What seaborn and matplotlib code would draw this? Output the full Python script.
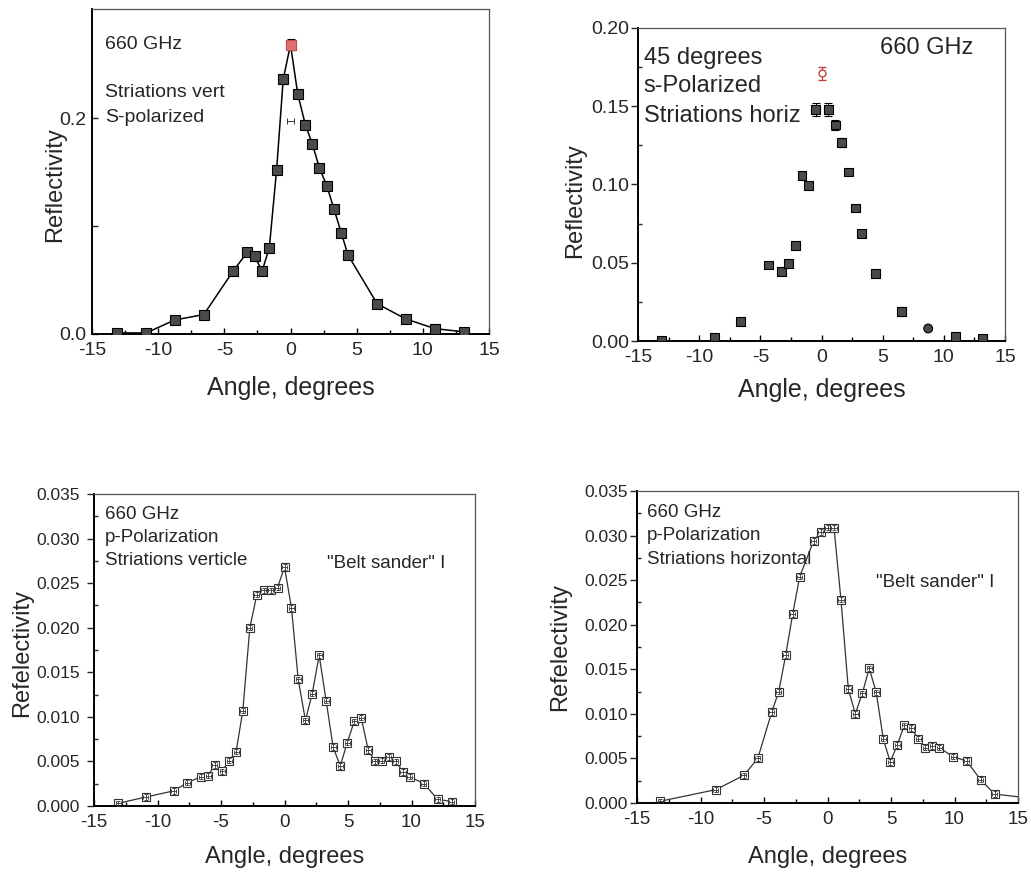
import numpy as np
import pandas as pd
import matplotlib
matplotlib.use("Agg")
import matplotlib.pyplot as plt
import seaborn as sns

# ---------------- data ----------------
# Panel A: 660 GHz, striations vertical, S-polarized
a_angle = [-13.1, -10.9, -8.75, -6.55, -4.35, -3.25, -2.7, -2.15, -1.6, -1.05, -0.55, 0.0,
           0.55, 1.12, 1.65, 2.18, 2.75, 3.28, 3.83, 4.35, 6.55, 8.7, 10.9, 13.1]
a_refl = [0.001, 0.001, 0.013, 0.018, 0.058, 0.076, 0.072, 0.058, 0.080, 0.152, 0.236, 0.268,
          0.222, 0.194, 0.176, 0.154, 0.137, 0.116, 0.094, 0.073, 0.028, 0.014, 0.005, 0.002]
a_err = [0.002, 0.002, 0.004, 0.003, 0.003, 0.003, 0.004, 0.003, 0.003, 0.004, 0.004, 0.005,
         0.003, 0.004, 0.003, 0.003, 0.003, 0.003, 0.003, 0.003, 0.002, 0.003, 0.003, 0.002]
a_peak_index = 11
a_stray_angle = [0.0]
a_stray_refl = [0.197]

# Panel B: 45 degrees, s-Polarized, striations horizontal
b_angle = [-13.1, -8.75, -6.6, -4.36, -3.27, -2.72, -2.15, -1.6, -1.06, -0.49,
           0.57, 1.12, 1.66, 2.2, 2.75, 3.3, 4.41, 6.57, 8.72, 10.98, 13.16]
b_refl = [0.0005, 0.0026, 0.0123, 0.0485, 0.0442, 0.0496, 0.0608, 0.106, 0.0996, 0.148,
          0.148, 0.138, 0.127, 0.108, 0.085, 0.0685, 0.0431, 0.0188, 0.008, 0.003, 0.0015]
b_err = [0.001, 0.001, 0.0015, 0.001, 0.001, 0.001, 0.002, 0.002, 0.002, 0.004,
         0.004, 0.003, 0.003, 0.002, 0.002, 0.001, 0.001, 0.003, 0.001, 0.001, 0.001]
b_circle_index = 18
b_peak_angle = [0.05]
b_peak_refl = [0.171]
b_peak_err = [0.004]

# Panel C: 660 GHz, p-Polarization, striations verticle
c_angle = [-13.1, -10.93, -8.72, -7.67, -6.57, -6.02, -5.49, -4.91, -4.36, -3.81, -3.28,
           -2.73, -2.18, -1.65, -1.10, -0.55, 0.0, 0.55, 1.08, 1.65, 2.18, 2.73, 3.28,
           3.83, 4.39, 4.94, 5.49, 6.04, 6.59, 7.12, 7.67, 8.22, 8.77, 9.33, 9.85,
           10.98, 12.06, 13.16]
c_refl = [0.0003, 0.0010, 0.0017, 0.0026, 0.0033, 0.0034, 0.0046, 0.0039, 0.0051, 0.0061,
          0.0107, 0.0200, 0.0237, 0.0242, 0.0242, 0.0245, 0.0268, 0.0222, 0.0142, 0.0096,
          0.0126, 0.0169, 0.0118, 0.0066, 0.0045, 0.0071, 0.0095, 0.0099, 0.0063, 0.0050,
          0.0051, 0.0055, 0.0050, 0.0038, 0.0033, 0.0025, 0.00075, 0.0005]

# Panel D: 660 GHz, p-Polarization, striations horizontal
d_angle = [-13.16, -8.79, -6.59, -5.49, -4.39, -3.84, -3.29, -2.74, -2.19, -1.09, -0.54,
           0.0, 0.51, 1.06, 1.64, 2.19, 2.74, 3.29, 3.84, 4.39, 4.94, 5.49, 6.04, 6.59,
           7.14, 7.69, 8.24, 8.79, 9.89, 10.96, 12.06, 13.16, 15.6]
d_refl = [0.0002, 0.0015, 0.0031, 0.0050, 0.0102, 0.0125, 0.0166, 0.0212, 0.0254, 0.0294,
          0.0304, 0.0309, 0.0309, 0.0228, 0.0128, 0.0100, 0.0123, 0.0151, 0.0124, 0.0072,
          0.0046, 0.0065, 0.0087, 0.0084, 0.0072, 0.0062, 0.0064, 0.0062, 0.0052, 0.0047,
          0.0026, 0.0010, 0.0006]

x_major = [-15, -10, -5, 0, 5, 10, 15]
x_minor = [-12.5, -7.5, -2.5, 2.5, 7.5, 12.5]

# ---------------- style ----------------
sns.set_theme(style="ticks")
plt.rcParams["font.family"] = ["Liberation Sans", "DejaVu Sans"]
plt.rcParams["axes.linewidth"] = 1.2

W, H = 1031, 872
fig = plt.figure(figsize=(W / 100, H / 100), dpi=100)
fig.patch.set_facecolor("white")


def make_ax(l, t, r, b):
    return fig.add_axes([l / W, 1 - b / H, (r - l) / W, (b - t) / H])


def frame(ax, xpad):
    for s in ["left", "bottom"]:
        ax.spines[s].set_color("black")
        ax.spines[s].set_linewidth(1.4)
    for s in ["top", "right"]:
        ax.spines[s].set_color("#555555")
        ax.spines[s].set_linewidth(0.9)
    ax.set_xlim(-15, 15)
    ax.set_xticks(x_major)
    ax.set_xticks(x_minor, minor=True)
    ax.set_xticklabels([str(v) for v in x_major])
    ax.tick_params(axis="x", which="major", direction="in", length=4, width=1, color="black",
                   pad=xpad)
    ax.tick_params(axis="x", which="minor", direction="in", length=3, width=1, color="black")
    ax.set_facecolor("white")
    ax.grid(False)


def labels(ax, xl, yl, xsize, ysize, xpos, ypos):
    ax.set_xlabel(xl, fontsize=xsize)
    ax.set_ylabel(yl, fontsize=ysize)
    ax.xaxis.label.set_verticalalignment("center")
    ax.yaxis.label.set_verticalalignment("center")
    ax.xaxis.set_label_coords(*xpos)
    ax.yaxis.set_label_coords(*ypos)


# ---------- Panel A ----------
axA = make_ax(92, 9, 489, 334)
dfA = pd.DataFrame({"angle": a_angle, "refl": a_refl, "err": a_err})
axA.errorbar(dfA["angle"], dfA["refl"], yerr=dfA["err"], fmt="none", ecolor="black",
             elinewidth=0.8, capsize=3, capthick=0.8, zorder=2)
sns.lineplot(data=dfA, x="angle", y="refl", ax=axA, color="black", lw=1.1, sort=False,
             estimator=None, marker="s", markersize=6.5, markerfacecolor="#4a4a4a",
             markeredgecolor="black", markeredgewidth=0.8, zorder=3)
pk = dfA.iloc[[a_peak_index]]
axA.plot(pk["angle"], pk["refl"], marker="s", ls="none", ms=6.5, mfc="#e07070",
         mec="#c05050", mew=0.8, zorder=4)
axA.errorbar(a_stray_angle, a_stray_refl, xerr=0.3, fmt="none", ecolor="#333333",
             elinewidth=0.7, capsize=2.5, capthick=0.7)
frame(axA, 6)
axA.set_ylim(0, 0.301)
axA.set_yticks([0.0, 0.2])
axA.set_yticks([0.1], minor=True)
axA.set_yticklabels(["0.0", "0.2"])
axA.tick_params(axis="y", which="both", direction="in", length=4, width=1)
axA.tick_params(axis="y", which="major", pad=4)
axA.tick_params(axis="both", which="major", labelsize=14)
labels(axA, "Angle, degrees", "Reflectivity", 18, 17, (0.5, -0.166), (-0.093, 0.46))
for txt, y in [("660 GHz", 0.918), ("Striations vert", 0.77), ("S-polarized", 0.693)]:
    axA.text(0.033, y, txt, transform=axA.transAxes, fontsize=14, va="top", ha="left")

# ---------- Panel B ----------
axB = make_ax(638, 28, 1005, 341)
dfB = pd.DataFrame({"angle": b_angle, "refl": b_refl, "err": b_err})
dfB["shape"] = ["circle" if i == b_circle_index else "square" for i in range(len(dfB))]
axB.errorbar(dfB["angle"], dfB["refl"], yerr=dfB["err"], fmt="none", ecolor="black",
             elinewidth=0.8, capsize=3, capthick=0.8, zorder=2)
sns.scatterplot(data=dfB, x="angle", y="refl", ax=axB, style="shape",
                markers={"square": "s", "circle": "o"}, s=40, color="#4a4a4a",
                edgecolor="black", linewidth=0.8, legend=False, zorder=3)
axB.errorbar(b_peak_angle, b_peak_refl, yerr=b_peak_err, fmt="o", ms=5, mfc="white",
             mec="#c04040", mew=1.0, ecolor="#c04040", elinewidth=0.8, capsize=3, zorder=4)
frame(axB, 6)
axB.set_ylim(0, 0.20)
axB.set_yticks([0.0, 0.05, 0.10, 0.15, 0.20])
axB.set_yticks([0.025, 0.075, 0.125, 0.175], minor=True)
axB.set_yticklabels(["0.00", "0.05", "0.10", "0.15", "0.20"])
axB.tick_params(axis="y", which="major", direction="out", length=5, width=1, pad=1.5)
axB.tick_params(axis="y", which="minor", direction="in", length=3, width=1)
axB.tick_params(axis="both", which="major", labelsize=14)
labels(axB, "Angle, degrees", "Reflectivity", 18, 17, (0.5, -0.157), (-0.172, 0.45))
for txt, y in [("45 degrees", 0.94), ("s-Polarized", 0.85), ("Striations horiz", 0.755)]:
    axB.text(0.015, y, txt, transform=axB.transAxes, fontsize=17, va="top", ha="left")
axB.text(0.66, 0.972, "660 GHz", transform=axB.transAxes, fontsize=17, va="top", ha="left")


def p_panel(ax, angle, refl, ypad):
    df = pd.DataFrame({"angle": angle, "refl": refl})
    sns.lineplot(data=df, x="angle", y="refl", ax=ax, color="#333333", lw=0.9, sort=False,
                 estimator=None, marker="s", markersize=5.5, markerfacecolor="white",
                 markeredgecolor="#333333", markeredgewidth=0.8, zorder=2)
    ax.errorbar(df["angle"], df["refl"], xerr=0.2, yerr=0.0003, fmt="none",
                ecolor="#333333", elinewidth=0.6, capsize=1.5, capthick=0.6, zorder=3)
    frame(ax, 6)
    ax.set_ylim(0, 0.035)
    ax.set_yticks(np.round(np.arange(0, 0.0351, 0.005), 3))
    ax.set_yticks(np.round(np.arange(0.0025, 0.035, 0.005), 4), minor=True)
    ax.set_yticklabels([f"{v:.3f}" for v in np.arange(0, 0.0351, 0.005)])
    ax.tick_params(axis="y", which="major", direction="out", length=5, width=1,
                   labelsize=12.5, pad=ypad)
    ax.tick_params(axis="y", which="minor", direction="in", length=3, width=1)
    ax.tick_params(axis="x", which="major", labelsize=13.5)


# ---------- Panel C ----------
axC = make_ax(94, 494, 475, 806)
p_panel(axC, c_angle, c_refl, 5)
labels(axC, "Angle, degrees", "Refelectivity", 17, 17, (0.5, -0.162), (-0.189, 0.49))
for txt, y in [("660 GHz", 0.963), ("p-Polarization", 0.889), ("Striations verticle", 0.814)]:
    axC.text(0.029, y, txt, transform=axC.transAxes, fontsize=13.5, va="top", ha="left")
axC.text(0.611, 0.805, '"Belt sander" I', transform=axC.transAxes, fontsize=13.5,
         va="top", ha="left")

# ---------- Panel D ----------
axD = make_ax(637, 491, 1018, 803)
p_panel(axD, d_angle, d_refl, 1.5)
labels(axD, "Angle, degrees", "Refelectivity", 17, 17, (0.5, -0.172), (-0.202, 0.5))
for txt, y in [("660 GHz", 0.959), ("p-Polarization", 0.884), ("Striations horizontal", 0.809)]:
    axD.text(0.027, y, txt, transform=axD.transAxes, fontsize=13.5, va="top", ha="left")
axD.text(0.627, 0.735, '"Belt sander" I', transform=axD.transAxes, fontsize=13.5,
         va="top", ha="left")

fig.savefig("out.png", dpi=100, facecolor="white")
